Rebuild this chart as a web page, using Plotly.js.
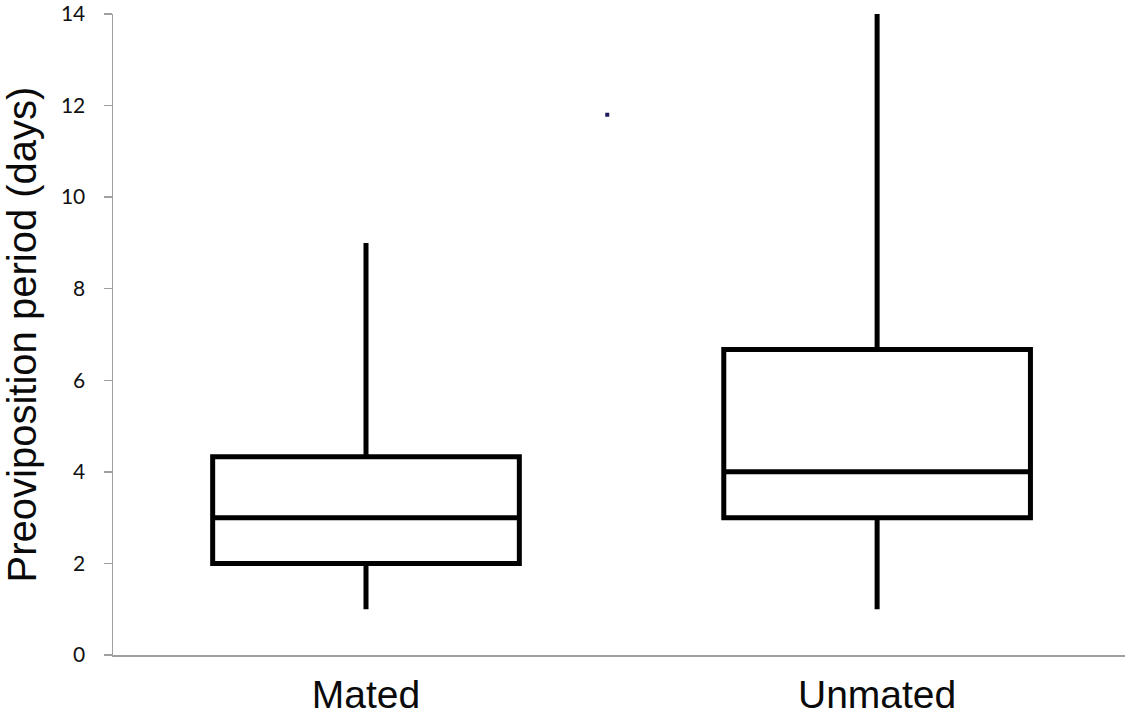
<!DOCTYPE html>
<html>
<head>
<meta charset="utf-8">
<script src="https://cdn.plot.ly/plotly-3.0.1.min.js"></script>
<style>html,body{margin:0;padding:0;background:#fff;}#chart{width:1125px;height:719px;}</style>
</head>
<body>
<div id="chart"></div>
<script>
// Data
const categories = ["Mated", "Unmated"];
const catPos = [0, 1];
const lowerWhisker = [1, 1];
const q1 = [2, 3];
const median = [3, 4];
const q3 = [4.33, 6.67];
const upperWhisker = [9, 14];
const markX = [0.472];
const markY = [11.8];
const yTicks = [0, 2, 4, 6, 8, 10, 12, 14];

const traces = categories.map((c, i) => ({
  type: 'box',
  name: c,
  x: [catPos[i]],
  q1: [q1[i]],
  median: [median[i]],
  q3: [q3[i]],
  lowerfence: [lowerWhisker[i]],
  upperfence: [upperWhisker[i]],
  width: 0.6,
  whiskerwidth: 0,
  fillcolor: '#ffffff',
  line: {color: '#000000', width: 5},
  boxpoints: false,
  hoverinfo: 'skip',
  showlegend: false
}));
traces.push({
  type: 'scatter', mode: 'markers', x: markX, y: markY,
  marker: {symbol: 'square', size: 4, color: '#1e1b5c'},
  showlegend: false, hoverinfo: 'skip'
});

const layout = {
  width: 1125, height: 719,
  margin: {l: 113, r: 0, t: 14, b: 64},
  paper_bgcolor: '#ffffff', plot_bgcolor: '#ffffff',
  showlegend: false,
  xaxis: {
    range: [-0.495, 1.485],
    tickvals: catPos, ticktext: categories,
    showgrid: false, zeroline: false,
    showline: true, linecolor: '#a0a0a0', linewidth: 1.5,
    ticks: '', ticklabelstandoff: 5,
    tickfont: {family: 'Liberation Sans, Arial, sans-serif', size: 39, color: '#0a0a0a'}
  },
  yaxis: {
    range: [0, 14], tickvals: yTicks,
    showgrid: false, zeroline: false,
    showline: true, linecolor: '#a0a0a0', linewidth: 1.5,
    ticks: 'outside', ticklen: 8, tickcolor: '#a0a0a0', tickwidth: 1.5,
    ticklabelstandoff: 14,
    tickfont: {family: 'Lato, Noto Sans, sans-serif', size: 21, color: '#111'},
    title: {text: 'Preoviposition period (days)', standoff: 12,
            font: {family: 'Liberation Sans, Arial, sans-serif', size: 40, color: '#0a0a0a'}}
  }
};
Plotly.newPlot('chart', traces, layout, {displayModeBar: false, staticPlot: true});
</script>
</body>
</html>
